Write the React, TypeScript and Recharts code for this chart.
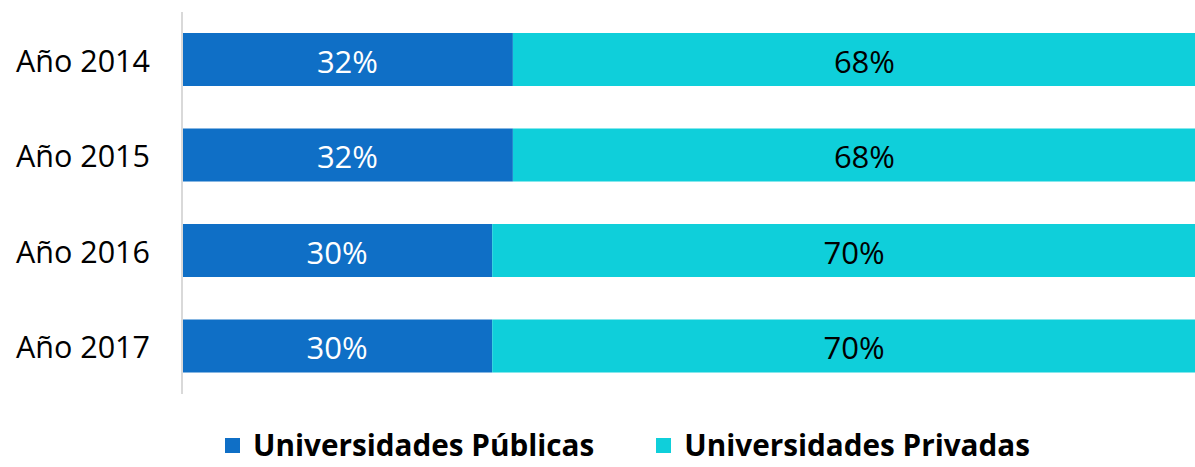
import React from 'react';
import { Bar, BarChart, LabelList, Legend, XAxis, YAxis } from 'recharts';

const years = ['Año 2014', 'Año 2015', 'Año 2016', 'Año 2017'];
const publicas = [32, 32, 30, 30];
const privadas = [68, 68, 70, 70];

const seriesNames = ['Universidades Públicas', 'Universidades Privadas'];
const colors = ['#0F6FC6', '#0FCFDA'];

const data = years.map((name, i) => ({
    name,
    publicas: publicas[i],
    privadas: privadas[i],
}));

const font = '"Open Sans", "Noto Sans", sans-serif';

const pct = (v: any) => `${v}%`;

const LegendBox = () => (
    <div style={{ display: 'flex', fontFamily: font, fontWeight: 700, fontSize: 29.7, lineHeight: '36px', color: '#000', paddingLeft: 225, paddingBottom: 4 }}>
        {seriesNames.map((n, i) => (
            <div key={n} style={{ display: 'flex', alignItems: 'center', marginRight: 62 }}>
                <span style={{ width: 15, height: 15, background: colors[i], marginRight: 13, display: 'inline-block' }} />
                <span>{n}</span>
            </div>
        ))}
    </div>
);

const App: React.FC = () => {
    // plot runs a bit past the right edge, as in the original
    return (
        <div style={{ position: 'absolute', left: 0, top: 0, width: 1195, height: 467, overflow: 'hidden' }}>
            <BarChart
                width={1216}
                height={467}
                data={data}
                layout="vertical"
                margin={{ top: 12, right: 0, left: 0, bottom: 33 }}
            >
                <XAxis type="number" domain={[0, 100]} hide />
                <YAxis
                    type="category"
                    dataKey="name"
                    width={182}
                    axisLine={{ stroke: '#D9D9D9', strokeWidth: 2 }}
                    tickLine={false}
                    tickSize={0}
                    tickMargin={32}
                    tick={{ fill: '#000', fontSize: 30.5, fontFamily: font, dy: 1 }}
                />
                <Legend
                    content={<LegendBox />}
                    verticalAlign="bottom"
                    wrapperStyle={{ left: 0, width: 1195, bottom: 0 }}
                />
                <Bar dataKey="publicas" stackId="a" fill={colors[0]} barSize={53} isAnimationActive={false}>
                    <LabelList dataKey="publicas" position="center" formatter={pct} fill="#fff" dy={2} style={{ fontSize: 31, fontFamily: font }} />
                </Bar>
                <Bar dataKey="privadas" stackId="a" fill={colors[1]} barSize={53} isAnimationActive={false}>
                    <LabelList dataKey="privadas" position="center" formatter={pct} fill="#000" dy={2} style={{ fontSize: 31, fontFamily: font }} />
                </Bar>
            </BarChart>
        </div>
    );
};

export default App;
